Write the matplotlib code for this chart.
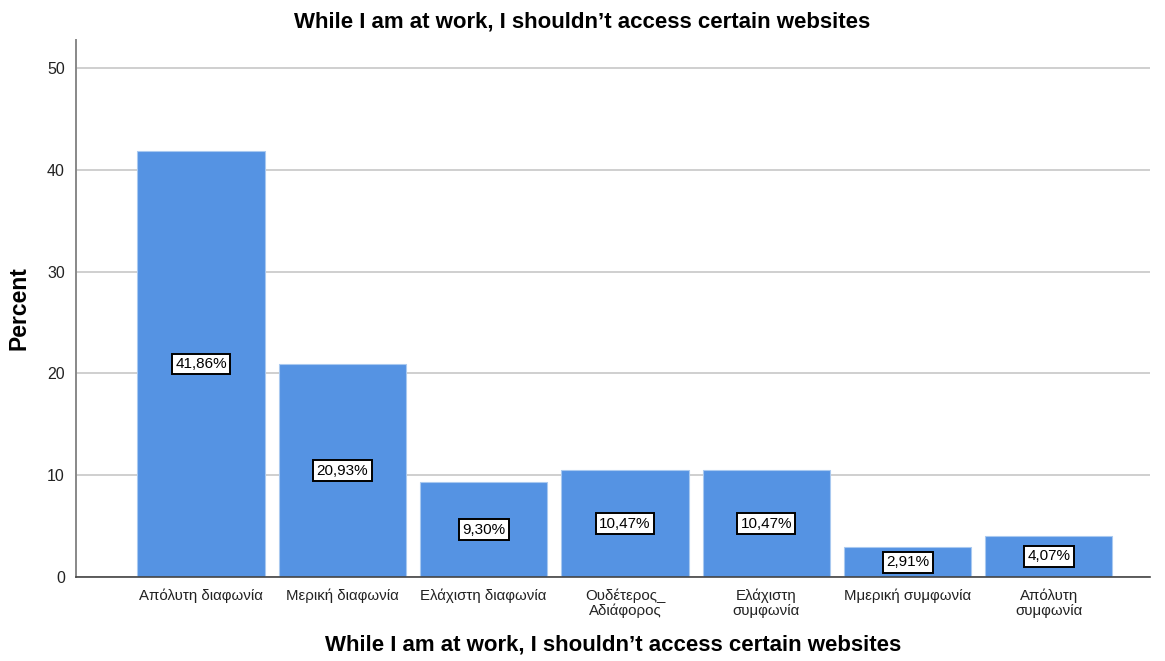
import matplotlib.pyplot as plt
import numpy as np

plt.rcParams['font.family'] = ['Liberation Sans', 'DejaVu Sans']

categories = ['Απόλυτη διαφωνία', 'Μερική διαφωνία', 'Ελάχιστη διαφωνία',
              'Ουδέτερος_\nΑδιάφορος', 'Ελάχιστη\nσυμφωνία', 'Μμερική συμφωνία',
              'Απόλυτη\nσυμφωνία']
percent = [41.86, 20.93, 9.30, 10.47, 10.47, 2.91, 4.07]
yticks = [0, 10, 20, 30, 40, 50]
title = 'While I am at work, I shouldn’t access certain websites'

fig = plt.figure(figsize=(11.65, 6.61), dpi=100)
ax = fig.add_axes([0.0652, 0.127, 0.922, 0.8125])

x = np.arange(len(categories))
ax.bar(x, percent, width=0.9, color='#5593e3', edgecolor='#a9c9f0', linewidth=0.8, zorder=2)

for xi, v in zip(x, percent):
    ax.text(xi, v / 2, f'{v:.2f}%'.replace('.', ','), ha='center', va='center',
            fontsize=11, zorder=3,
            bbox=dict(boxstyle='square,pad=0.22', facecolor='white', edgecolor='black', linewidth=1.4))

ax.set_xlim(-0.885, 6.716)
ax.set_ylim(0, 52.75)
ax.set_yticks(yticks)
ax.set_xticks(x)
ax.set_xticklabels(categories, fontsize=10.8, color='#222222', linespacing=1.1)
ax.tick_params(axis='y', length=0, labelsize=11.5, pad=8, colors='#222222')
ax.tick_params(axis='x', length=0, pad=8)
ax.grid(axis='y', color='#cfcfcf', linewidth=1.4, zorder=0)
ax.set_axisbelow(True)

for s in ['top', 'right']:
    ax.spines[s].set_visible(False)
ax.spines['left'].set_color('#888888')
ax.spines['left'].set_linewidth(1.4)
ax.spines['bottom'].set_color('#444444')
ax.spines['bottom'].set_linewidth(1.2)

ax.set_ylabel('Percent', fontsize=16.5, fontweight='bold', labelpad=12)
ax.set_xlabel(title, fontsize=16, fontweight='bold', labelpad=12)
fig.text(0.5, 0.966, title, ha='center', va='center', fontsize=16, fontweight='bold')

fig.savefig('out.png', dpi=100)
